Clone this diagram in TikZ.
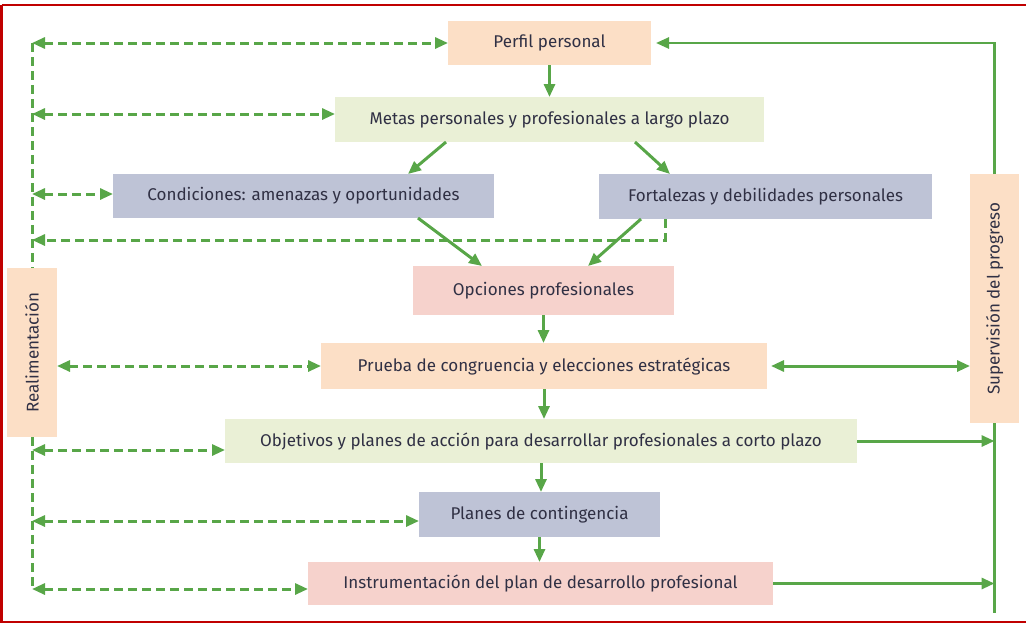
\documentclass[tikz,border=0pt]{standalone}
\usepackage{fontspec}
\setmainfont{Fira Sans}
\usepackage{graphicx}
\usetikzlibrary{arrows.meta,calc}
\definecolor{peach}{RGB}{252,223,198}
\definecolor{lgreen}{RGB}{234,240,214}
\definecolor{lav}{RGB}{190,195,214}
\definecolor{pinkb}{RGB}{246,210,204}
\definecolor{agreen}{RGB}{88,166,72}
\definecolor{txt}{RGB}{48,48,68}
\definecolor{frame}{RGB}{192,0,0}
\tikzset{
  tip/.tip={Triangle[length=13pt,width=11pt]},
  box/.style={inner sep=0pt,outer sep=0pt,text=txt,font=\fontsize{17}{20}\selectfont},
  solidarrow/.style={draw=agreen,line width=3pt,-tip},
  dasharrow/.style={draw=agreen,line width=3pt,dash pattern=on 9pt off 5pt,tip-tip},
  dashline/.style={draw=agreen,line width=3pt,dash pattern=on 9pt off 5pt},
  plainline/.style={draw=agreen,line width=2.5pt},
}
\begin{document}
\begin{tikzpicture}[x=1pt,y=-1pt]
\useasboundingbox (0,0) rectangle (1026,625);
\draw[frame,line width=2.5pt] (1.5,5) -- (1030,5) (1.5,5) -- (1.5,622) -- (1030,622);
% nodes
\node[box,fill=peach,minimum width=203,minimum height=44] (perfil) at (549.5,43) {Perfil personal};
\node[box,fill=lgreen,minimum width=429,minimum height=45] (metas) at (549.5,119.5) {Metas personales y profesionales a largo plazo};
\node[box,fill=lav,minimum width=381,minimum height=44] (cond) at (303.5,196) {Condiciones: amenazas y oportunidades};
\node[box,fill=lav,minimum width=333,minimum height=45] (fort) at (765.5,196.5) {Fortalezas y debilidades personales};
\node[box,fill=pinkb,minimum width=261,minimum height=49] (opc) at (543.5,290.5) {Opciones profesionales};
\node[box,fill=peach,minimum width=446,minimum height=46] (prueba) at (544,366) {Prueba de congruencia y elecciones estratégicas};
\node[box,fill=lgreen,minimum width=632,minimum height=44] (obj) at (541,441) {Objetivos y planes de acción para desarrollar profesionales a corto plazo};
\node[box,fill=lav,minimum width=241,minimum height=45] (planes) at (539.5,514.5) {Planes de contingencia};
\node[box,fill=pinkb,minimum width=465,minimum height=43] (instr) at (540.5,583.5) {Instrumentación del plan de desarrollo profesional};
\node[box,fill=peach,minimum width=50,minimum height=169] (real) at (32,352.5) {\rotatebox{90}{Realimentación}};
\node[box,fill=peach,minimum width=49,minimum height=249] (sup) at (994.5,298.5) {\rotatebox{90}{Supervisión del progreso}};
% helper coordinates
\coordinate (m2) at ([yshift=5.5]metas.west);
\coordinate (c3) at ([yshift=2]cond.west);
\coordinate (fb) at (32,240);
\coordinate (o6) at ([yshift=-9]obj.west);
\coordinate (p7) at ([yshift=-6.5]planes.west);
\coordinate (i8) at ([yshift=-5.5]instr.west);
\coordinate (sb) at (994.5,613);
% main flow
\draw[solidarrow] (perfil.south) -- (metas.north);
\draw[solidarrow] ([xshift=-103.5]metas.south) -- ([xshift=104.5]cond.north);
\draw[solidarrow] ([xshift=85.5]metas.south) -- ([xshift=-95.5]fort.north);
\draw[solidarrow] ([xshift=114.5]cond.south) -- ([xshift=-61.5]opc.north);
\draw[solidarrow] ([xshift=-124.5]fort.south) -- ([xshift=44.5]opc.north);
\draw[solidarrow] (opc.south) -- (opc.south |- prueba.north);
\draw[solidarrow] (prueba.south) -- (prueba.south |- obj.north);
\draw[solidarrow] (obj.south) -- (obj.south |- planes.north);
\draw[solidarrow] (planes.south) -- (planes.south |- instr.north);
% feedback (left)
\draw[dashline] (perfil.west -| real.north) -- (real.north);
\draw[dashline] (real.south) -- (i8 -| real.south);
\draw[dasharrow] (perfil.west -| real.north) -- (perfil.west);
\draw[dasharrow] (m2 -| real.north) -- (m2);
\draw[dasharrow] (c3 -| real.north) -- (c3);
\draw[dashline,-tip] ([xshift=-100.5]fort.south) |- (fb);
\draw[dasharrow] (prueba.west -| real.east) -- (prueba.west);
\draw[dasharrow] (o6 -| real.south) -- (o6);
\draw[dasharrow] (p7 -| real.south) -- (p7);
\draw[dasharrow] (i8 -| real.south) -- (i8);
% supervision (right)
\draw[plainline,-tip,shorten >=5pt] (sup.north) |- (perfil.east);
\draw[solidarrow,tip-tip,shorten <=4pt] (prueba.east) -- (prueba.east -| sup.west);
\draw[plainline] (sup.south) -- (sb);
\draw[solidarrow] (obj.east) -- (obj.east -| sup.south);
\draw[solidarrow] (instr.east) -- (instr.east -| sup.south);
\end{tikzpicture}
\end{document}
